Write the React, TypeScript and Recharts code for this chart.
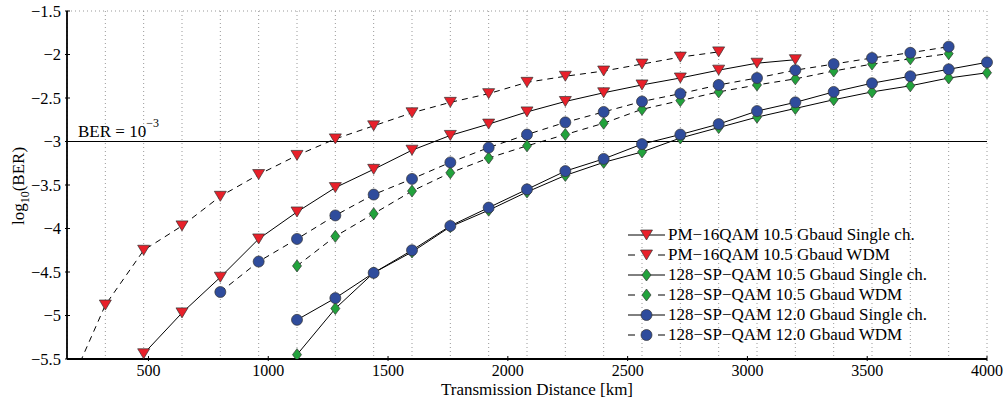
import { CartesianGrid, Line, LineChart, ReferenceLine, XAxis, YAxis } from 'recharts';

const FONT = 'Liberation Serif, Times New Roman, DejaVu Serif, serif';

const DIST = [
  160, 320, 480, 640, 800, 960, 1120, 1280, 1440, 1600, 1760, 1920, 2080,
  2240, 2400, 2560, 2720, 2880, 3040, 3200, 3360, 3520, 3680, 3840, 4000,
];

const X_TICKS = [500, 1000, 1500, 2000, 2500, 3000, 3500, 4000];
const Y_TICKS = [-5.5, -5, -4.5, -4, -3.5, -3, -2.5, -2, -1.5];

// log10(BER), aligned with DIST (null = not measured)
const PM16_SC = [
  null, null, -5.44, -4.97, -4.56, -4.12, -3.81, -3.53, -3.32, -3.1, -2.93, -2.8, -2.66,
  -2.54, -2.44, -2.35, -2.27, -2.18, -2.1, -2.06, null, null, null, null, null,
];
const PM16_WDM = [
  -5.88, -4.88, -4.25, -3.97, -3.63, -3.38, -3.16, -2.97, -2.82, -2.67, -2.55, -2.45, -2.32,
  -2.25, -2.19, -2.11, -2.03, -1.97, null, null, null, null, null, null, null,
];
const SP105_SC = [
  null, null, null, null, null, null, -5.45, -4.92, -4.51, -4.27, -3.98, -3.79, -3.58,
  -3.39, -3.24, -3.12, -2.96, -2.84, -2.72, -2.62, -2.52, -2.43, -2.36, -2.27, -2.21,
];
const SP105_WDM = [
  null, null, null, null, null, null, -4.43, -4.09, -3.83, -3.57, -3.36, -3.19, -3.05,
  -2.92, -2.79, -2.63, -2.53, -2.43, -2.35, -2.28, -2.19, -2.11, -2.05, -1.99, null,
];
const SP120_SC = [
  null, null, null, null, null, null, -5.05, -4.8, -4.51, -4.25, -3.97, -3.76, -3.55,
  -3.34, -3.2, -3.03, -2.92, -2.8, -2.65, -2.55, -2.43, -2.33, -2.25, -2.17, -2.09,
];
const SP120_WDM = [
  null, null, null, null, -4.73, -4.38, -4.12, -3.85, -3.61, -3.43, -3.24, -3.07, -2.92,
  -2.78, -2.66, -2.54, -2.45, -2.35, -2.27, -2.18, -2.11, -2.04, -1.98, -1.91, null,
];

const RED = '#e8202a';
const GREEN = '#22a23c';
const BLUE = '#2f4c9c';

type MarkerKind = 'tri' | 'dia' | 'circ';

const SERIES: { key: string; name: string; marker: MarkerKind; color: string; dashed: boolean }[] = [
  { key: 'pm16sc', name: 'PM\u221216QAM 10.5 Gbaud Single ch.', marker: 'tri', color: RED, dashed: false },
  { key: 'pm16wdm', name: 'PM\u221216QAM 10.5 Gbaud WDM', marker: 'tri', color: RED, dashed: true },
  { key: 'sp105sc', name: '128\u2212SP\u2212QAM 10.5 Gbaud Single ch.', marker: 'dia', color: GREEN, dashed: false },
  { key: 'sp105wdm', name: '128\u2212SP\u2212QAM 10.5 Gbaud WDM', marker: 'dia', color: GREEN, dashed: true },
  { key: 'sp120sc', name: '128\u2212SP\u2212QAM 12.0 Gbaud Single ch.', marker: 'circ', color: BLUE, dashed: false },
  { key: 'sp120wdm', name: '128\u2212SP\u2212QAM 12.0 Gbaud WDM', marker: 'circ', color: BLUE, dashed: true },
];

const data = DIST.map((d, i) => ({
  d,
  pm16sc: PM16_SC[i],
  pm16wdm: PM16_WDM[i],
  sp105sc: SP105_SC[i],
  sp105wdm: SP105_WDM[i],
  sp120sc: SP120_SC[i],
  sp120wdm: SP120_WDM[i],
}));

const minus = (v: number | string) => String(v).replace('-', '\u2212');

function Marker({ kind, color, cx, cy }: { kind: MarkerKind; color: string; cx: number; cy: number }) {
  const stroke = { stroke: '#333', strokeWidth: 0.7 };
  if (kind === 'tri') {
    return (
      <polygon
        points={`${cx - 6},${cy - 5} ${cx + 6},${cy - 5} ${cx},${cy + 5}`}
        fill={color}
        {...stroke}
      />
    );
  }
  if (kind === 'dia') {
    return (
      <polygon
        points={`${cx},${cy - 6} ${cx + 4.5},${cy} ${cx},${cy + 6} ${cx - 4.5},${cy}`}
        fill={color}
        {...stroke}
      />
    );
  }
  return <circle cx={cx} cy={cy} r={5.5} fill={color} {...stroke} />;
}

const makeDot = (kind: MarkerKind, color: string) => (props: any) => {
  const { cx, cy, value, index } = props;
  if (value == null || cx == null || cy == null || value < -5.5) return <g key={`d-${index}`} />;
  return (
    <g key={`d-${index}`}>
      <Marker kind={kind} color={color} cx={cx} cy={cy} />
    </g>
  );
};

const txt = { fontFamily: FONT, fill: '#000' };

// MATLAB-style inward ticks
const BottomTick = (p: any) => (
  <g>
    <line x1={p.x} x2={p.x} y1={p.y} y2={p.y - 5} stroke="#000" />
    <text x={p.x} y={p.y + 15} textAnchor="middle" fontSize={16} style={txt}>
      {minus(p.payload.value)}
    </text>
  </g>
);
const TopTick = (p: any) => <line x1={p.x} x2={p.x} y1={p.y} y2={p.y + 5} stroke="#000" />;
const LeftTick = (p: any) => (
  <g>
    <line x1={p.x} x2={p.x + 5} y1={p.y} y2={p.y} stroke="#000" />
    <text x={p.x - 4} y={p.y + 5.5} textAnchor="end" fontSize={16.5} style={txt}>
      {minus(p.payload.value)}
    </text>
  </g>
);
const RightTick = (p: any) => <line x1={p.x} x2={p.x - 5} y1={p.y} y2={p.y} stroke="#000" />;

const YLabel = () => (
  <text transform="translate(24,186) rotate(-90)" textAnchor="middle" fontSize={17} style={txt}>
    log
    <tspan fontSize={12} dy={5}>10</tspan>
    <tspan dy={-5}>(BER)</tspan>
  </text>
);

const XLabel = () => (
  <text x={537} y={395} textAnchor="middle" fontSize={17} style={txt}>
    Transmission Distance [km]
  </text>
);

const BerLabel = (p: any) => {
  const vb = p.viewBox || { x: 67, y: 141 };
  return (
    <text x={vb.x + 11} y={vb.y - 5} fontSize={17} style={txt}>
      BER = 10
      <tspan fontSize={12} dy={-10}>{'\u22123'}</tspan>
    </text>
  );
};

function LegendBox() {
  return (
    <div
      style={{
        position: 'absolute',
        left: 628,
        top: 225,
        fontFamily: FONT,
        fontSize: 17,
        color: '#000',
        lineHeight: '20px',
      }}
    >
      {SERIES.map((s) => (
        <div key={s.key} style={{ display: 'flex', alignItems: 'center', height: 20, whiteSpace: 'nowrap' }}>
          <svg width={37} height={20} style={{ marginRight: 3 }}>
            {s.dashed ? (
              <>
                <line x1={0} x2={7} y1={10} y2={10} stroke="#000" />
                <line x1={30} x2={37} y1={10} y2={10} stroke="#000" />
              </>
            ) : (
              <line x1={0} x2={37} y1={10} y2={10} stroke="#000" />
            )}
            <Marker kind={s.marker} color={s.color} cx={18.5} cy={10} />
          </svg>
          <span>{s.name}</span>
        </div>
      ))}
    </div>
  );
}

export default function App() {
  return (
    <div style={{ position: 'absolute', left: 0, top: 0, width: 1008, height: 398, background: '#fff' }}>
      <LineChart width={1008} height={398} data={data} margin={{ top: 11, right: 21, bottom: 0, left: 0 }}>
        <CartesianGrid stroke="#999" strokeDasharray="1 3" />
        <XAxis
          xAxisId="b"
          dataKey="d"
          type="number"
          domain={[160, 4000]}
          ticks={X_TICKS}
          height={39}
          tickSize={0}
          tickLine={false}
          axisLine={{ stroke: '#000', strokeWidth: 1.8 }}
          tick={<BottomTick />}
          label={<XLabel />}
        />
        <XAxis
          xAxisId="t"
          orientation="top"
          dataKey="d"
          type="number"
          domain={[160, 4000]}
          ticks={X_TICKS}
          height={0}
          tickSize={0}
          tickLine={false}
          axisLine={{ stroke: '#000' }}
          tick={<TopTick />}
        />
        <YAxis
          yAxisId="l"
          type="number"
          domain={[-5.5, -1.5]}
          ticks={Y_TICKS}
          allowDataOverflow
          width={67}
          tickSize={0}
          tickLine={false}
          axisLine={{ stroke: '#000', strokeWidth: 1.8 }}
          tick={<LeftTick />}
          label={<YLabel />}
        />
        <YAxis
          yAxisId="r"
          orientation="right"
          type="number"
          domain={[-5.5, -1.5]}
          ticks={Y_TICKS}
          allowDataOverflow
          width={0}
          tickSize={0}
          tickLine={false}
          axisLine={{ stroke: '#000' }}
          tick={<RightTick />}
        />
        <ReferenceLine xAxisId="b" yAxisId="l" y={-3} stroke="#000" strokeWidth={1.2} label={<BerLabel />} />
        {SERIES.map((s) => (
          <Line
            key={s.key}
            xAxisId="b"
            yAxisId="l"
            dataKey={s.key}
            name={s.name}
            stroke="#000"
            strokeWidth={1}
            strokeDasharray={s.dashed ? '6 5' : undefined}
            dot={makeDot(s.marker, s.color)}
            activeDot={false}
            isAnimationActive={false}
          />
        ))}
      </LineChart>
      <LegendBox />
    </div>
  );
}
